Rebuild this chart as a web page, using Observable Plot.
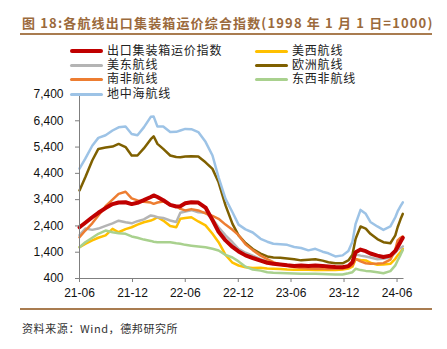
<!DOCTYPE html>
<html><head><meta charset="utf-8">
<script src="https://cdn.jsdelivr.net/npm/d3@7"></script>
<script src="https://cdn.jsdelivr.net/npm/@observablehq/plot@0.6"></script>
<style>
body{margin:0;background:#fff;}
#wrap{position:relative;width:447px;height:349px;overflow:hidden;background:#fff;}
#chart{position:absolute;left:0;top:0;}
.title{position:absolute;left:22px;top:14px;font-weight:bold;font-size:13px;font-family:"Noto Sans CJK SC",sans-serif;color:#9b6a3c;white-space:nowrap;line-height:18px;letter-spacing:1.15px;}
.rule{position:absolute;left:20px;width:412px;height:2px;background:#a97c50;}
.leg{position:absolute;font-size:12px;font-family:"Liberation Sans","Noto Sans CJK SC",sans-serif;color:#222;display:flex;align-items:center;white-space:nowrap;line-height:12px;height:12px;letter-spacing:0.8px;}
.leg i{display:inline-block;width:33px;height:3px;margin-right:4px;border-radius:2px;}
.src{position:absolute;left:22px;top:320px;font-size:11px;font-family:"Noto Sans CJK SC",sans-serif;color:#333;white-space:nowrap;line-height:16px;letter-spacing:0.6px;}
</style>
</head><body>
<div id="wrap">
<div id="chart"></div>
<div class="title">图 18:各航线出口集装箱运价综合指数(1998 年 1 月 1 日=1000)</div>
<div class="rule" style="top:33px"></div>
<div id="legend"></div>
<div class="rule" style="top:308px"></div>
<div class="src">资料来源：Wind，德邦研究所</div>
</div>
<script>
const dates = ["2021-06-01","2021-06-21","2021-07-15","2021-08-05","2021-08-30","2021-09-23","2021-10-14","2021-11-07","2021-11-28","2021-12-18","2022-01-09","2022-02-02","2022-02-12","2022-02-25","2022-03-17","2022-04-10","2022-05-01","2022-05-15","2022-06-01","2022-06-22","2022-07-16","2022-08-10","2022-09-03","2022-09-24","2022-10-18","2022-11-11","2022-12-02","2022-12-26","2023-01-20","2023-02-16","2023-03-11","2023-04-01","2023-04-25","2023-05-19","2023-06-12","2023-07-06","2023-07-31","2023-08-24","2023-09-18","2023-10-08","2023-11-01","2023-11-26","2023-12-16","2023-12-30","2024-01-10","2024-01-27","2024-02-14","2024-03-01","2024-03-25","2024-04-15","2024-05-09","2024-05-26","2024-06-03","2024-06-13","2024-06-21"];

const ccfi = [2350,2520,2730,2900,3080,3230,3290,3300,3230,3280,3380,3500,3560,3500,3380,3200,3140,3150,3260,3300,3290,3100,2620,2180,1850,1600,1430,1280,1180,1080,1000,960,930,900,880,890,880,890,880,860,840,830,870,1020,1400,1500,1440,1350,1270,1220,1270,1450,1600,1800,1950];
const usWest = [1590,1720,1850,1950,2040,2290,2160,2280,2350,2450,2540,2605,2650,2730,2605,2400,2350,2670,2700,2730,2570,2420,2100,1780,1300,1000,895,830,800,805,780,770,760,740,730,730,730,720,720,720,720,740,780,850,1135,1100,1085,1000,920,930,960,1150,1280,1400,1530];
const usEast = [2050,2300,2250,2300,2400,2500,2600,2540,2500,2580,2650,2800,2780,2730,2700,2605,2550,2900,2950,3000,2920,2900,2670,2350,2040,1780,1530,1380,1270,1135,1050,985,940,895,860,840,830,830,830,830,820,840,890,985,1310,1270,1235,1200,1135,1150,1210,1380,1490,1560,1620];
const europe = [3750,4250,4890,5330,5380,5420,5520,5400,5080,5080,5350,5700,5810,5520,5330,5080,5020,5015,5040,5050,5040,4820,4570,4060,3180,2480,2040,1750,1520,1350,1240,1200,1185,1160,1130,1090,1110,1135,1080,1020,980,980,1085,1300,1910,2380,2300,2100,1900,1780,1740,2040,2350,2650,2860];
const southAfrica = [1970,2225,2500,2800,3150,3400,3620,3700,3450,3370,3320,3290,3240,3290,3330,3200,3150,3050,2990,3040,2990,2880,2780,2670,2450,2250,2050,1700,1480,1270,1140,1020,930,880,840,800,780,770,770,760,770,780,830,900,1150,1050,980,960,970,985,1120,1500,1850,1950,2000];
const ewAfrica = [1590,1780,1950,2100,2225,2160,2120,2100,2000,1950,1880,1830,1800,1780,1780,1780,1740,1720,1680,1650,1620,1590,1530,1465,1300,1200,1050,850,740,700,640,620,610,600,590,580,580,580,570,560,550,550,600,640,770,720,690,680,640,600,680,900,1085,1300,1490];
const med = [4580,4960,5450,5750,5850,6030,6150,6180,5900,5850,6150,6550,6560,6180,6180,5970,5980,6030,6090,6080,5970,5600,5080,4250,3430,2920,2450,2270,2150,1910,1800,1720,1700,1680,1600,1560,1470,1530,1420,1360,1240,1280,1450,1800,2480,3010,2860,2550,2380,2250,2380,2730,2950,3150,3300];

const seriesNames = ["出口集装箱运价指数","美西航线","美东航线","欧洲航线","南非航线","东西非航线","地中海航线"];
const seriesValues = [ccfi, usWest, usEast, europe, southAfrica, ewAfrica, med];
const seriesColors = ["#c00000","#ffc000","#b4b4b4","#7f6000","#ed7d31","#a9d18e","#9dc3e6"];
const seriesWidths = [4, 2.5, 2.5, 2.5, 2.5, 2.5, 2.5];

const yTicks = [400,1400,2400,3400,4400,5400,6400,7400];
const xTickLabels = ["21-06","21-12","22-06","22-12","23-06","23-12","24-06"];

const parse = d3.utcParse("%Y-%m-%d");
const xTicks = xTickLabels.map(s => new Date(Date.UTC(2000 + +s.slice(0,2), +s.slice(3) - 1, 1)));
const xStart = parse("2021-06-01"), xEnd = parse("2024-06-25");

const drawOrder = [1,2,3,4,5,6,0];
const lineMarks = drawOrder.map(i => Plot.line(
  dates.map((d, k) => ({date: parse(d), value: seriesValues[i][k]})),
  {x: "date", y: "value", stroke: seriesColors[i], strokeWidth: seriesWidths[i], strokeLinejoin: "round", strokeLinecap: "round"}
));

const chart = Plot.plot({
  width: 447, height: 349,
  marginLeft: 79, marginRight: 43.5, marginTop: 94, marginBottom: 71,
  style: {fontFamily: "'Liberation Sans', Arial, sans-serif", fontSize: "12px", color: "#111", background: "transparent"},
  x: {type: "utc", domain: [xStart, xEnd]},
  y: {domain: [400, 7400]},
  marks: [
    ...lineMarks,
    Plot.ruleX([xStart], {stroke: "#7f7f7f", strokeWidth: 1}),
    Plot.ruleY([400], {stroke: "#7f7f7f", strokeWidth: 1}),
    Plot.axisY({ticks: yTicks, tickFormat: d3.format(","), tickSize: 4, tickPadding: 12, stroke: "#7f7f7f", label: null, fontSize: 12}),
    Plot.axisX({ticks: xTicks, tickFormat: (d, i) => xTickLabels[xTicks.findIndex(t => +t === +d)], tickSize: 4, tickPadding: 6, stroke: "#7f7f7f", label: null, fontSize: 12})
  ]
});
document.getElementById("chart").appendChild(chart);

// legend
const legPos = [[70,51],[255,51],[70,65],[255,65],[70,79],[255,79],[70,94]];
const leg = document.getElementById("legend");
seriesNames.forEach((name, i) => {
  const el = document.createElement("div");
  el.className = "leg";
  el.style.left = legPos[i][0] + "px";
  el.style.top = (legPos[i][1] - 6) + "px";
  const sw = document.createElement("i");
  sw.style.background = seriesColors[i];
  sw.style.height = (i === 0 ? 4 : 3) + "px";
  el.appendChild(sw);
  el.appendChild(document.createTextNode(name));
  leg.appendChild(el);
});
</script>
</body></html>
